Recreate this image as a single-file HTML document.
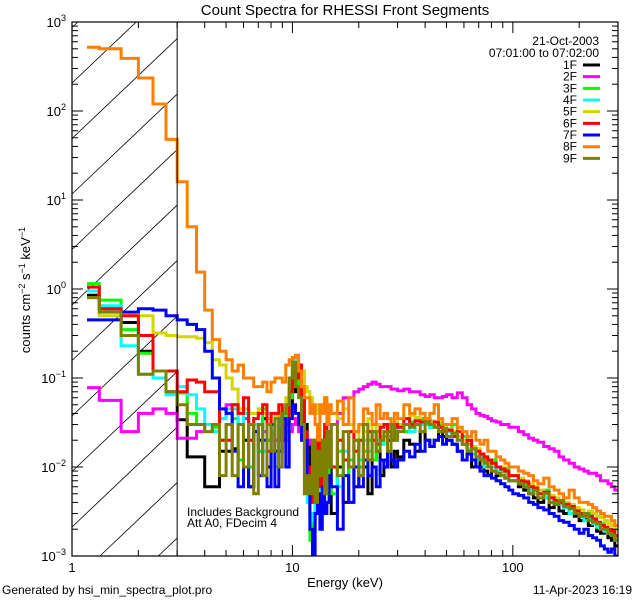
<!DOCTYPE html>
<html><head><meta charset="utf-8"><style>
html,body{margin:0;padding:0;background:#fff;width:640px;height:600px;overflow:hidden;}
svg{display:block;}
svg text{font-family:"Liberation Sans",sans-serif;fill:#000;}
</style></head><body>
<svg id="chart" width="640" height="600" xmlns="http://www.w3.org/2000/svg">
<rect x="0" y="0" width="640" height="600" fill="#fff"/>
<text x="345" y="15" font-size="15" text-anchor="middle">Count Spectra for RHESSI Front Segments</text>
<g id="hatch"></g>
<g id="series"></g>
<g id="axes"></g>
<text x="30" y="290" font-size="13" text-anchor="middle" transform="rotate(-90 30 290)">counts cm<tspan font-size="9" dy="-5">−2</tspan><tspan dy="5"> s</tspan><tspan font-size="9" dy="-5">−1</tspan><tspan dy="5"> keV</tspan><tspan font-size="9" dy="-5">−1</tspan></text>
<text x="345" y="587" font-size="13" text-anchor="middle">Energy (keV)</text>
<text x="2" y="594" font-size="12">Generated by hsi_min_spectra_plot.pro</text>
<text x="632" y="594" font-size="12" text-anchor="end">11-Apr-2023 16:19</text>
<text x="187" y="516" font-size="12">Includes Background</text>
<text x="187" y="527" font-size="12">Att A0, FDecim 4</text>
<text x="599" y="45" font-size="12" text-anchor="end">21-Oct-2003</text>
<text x="599" y="57" font-size="12" text-anchor="end">07:01:00 to 07:02:00</text>
<g id="legend"></g>
</svg>
<script>
const edgesLow=[1.17,1.33,1.67,2,2.33,2.67,3,3.33,3.67,4,4.33,4.67,5,5.33,5.67,6,6.33,6.67,7,7.33,7.67,8,8.33,8.67,9,9.33,9.67,10,10.33,10.67,11,11.33,11.67,12,12.33,12.67,13,13.33,13.67,14,14.33,14.67,15];
const edgesHigh=[16,17,18,19,20,21,22,23,24,25,26,27,28,29,30,32,34,36,38,40,42,44,46,48,50,53,56,59,62,65,68,71,74,77,80,84,88,92,96,100,106,112,118,124,130,138,146,154,162,170,180,190,200,210,220,230,240,250,260,270,280,290,300];
const seriesNames=["1F","2F","3F","4F","5F","6F","7F","8F","9F"];
const seriesColors=["#000000","#ff00ff","#00ff00","#00ffff","#d4d400","#ff0000","#0000ff","#ff8000","#808000"];
const s1F=[.85,.6,.42,.2,.12,.07,.034,.013,.013,.006,.006,.015,.015,.016,.012,.02,.006,.03,.02,.035,.01,.025,.015,.04,.02,.04,.05,.09,.07,.12,.06,.03,.02,.003,.002,.006,.004,.012,.005,.008,.015,.01,
.003,.01,.004,.012,.006,.008,.01,.005,.012,.015,.008,.012,.02,.01,.015,.013,.02,.018,.015,.025,.02,.017,.02,.025,.022,.02,.018,.015,.012,.014,.01,.012,.01,.009,.008,.009,.008,.009,.0075,.007,.007,.006,.0055,.005,.0045,.004,.0045,.0035,.0038,.0032,.003,.0035,.0028,.0025,.0026,.0022,.0024,.0019,.0018,.002,.0016,.0015,.0013];
const s2F=[.078,.056,.025,.04,.045,.04,.021,.021,.025,.03,.03,.035,.05,.05,.03,.035,.03,.025,.03,.025,.02,.025,.02,.022,.02,.025,.025,.03,.035,.025,.02,.02,.018,.02,.02,.015,.018,.018,.02,.022,.02,.025,
.03,.04,.06,.06,.07,.075,.08,.085,.09,.085,.08,.08,.08,.075,.075,.072,.075,.07,.07,.065,.062,.065,.06,.06,.062,.065,.06,.068,.06,.05,.045,.04,.038,.037,.035,.033,.032,.03,.03,.028,.028,.025,.023,.021,.02,.019,.017,.016,.015,.013,.012,.011,.01,.0095,.009,.0085,.0085,.008,.007,.007,.0065,.006,.0055];
const s3F=[1.15,.75,.35,.19,.12,.068,.068,.04,.03,.025,.028,.02,.03,.035,.012,.04,.01,.03,.015,.045,.02,.03,.01,.035,.02,.04,.06,.12,.08,.13,.05,.015,.008,.0015,.003,.008,.005,.015,.004,.01,.02,.008,
.005,.015,.008,.012,.02,.01,.015,.02,.012,.025,.018,.022,.03,.02,.025,.03,.025,.032,.03,.035,.03,.028,.032,.03,.027,.025,.03,.02,.022,.018,.016,.015,.013,.012,.011,.012,.01,.009,.0095,.008,.008,.007,.0065,.006,.0055,.005,.0055,.0045,.004,.0042,.004,.0035,.0033,.003,.0028,.003,.0025,.0022,.0023,.002,.0019,.0018,.0016];
const s4F=[.95,.65,.23,.11,.1,.065,.08,.065,.045,.03,.025,.035,.045,.045,.03,.04,.02,.03,.03,.015,.04,.025,.035,.03,.04,.05,.08,.16,.14,.1,.04,.01,.004,.003,.0025,.006,.008,.004,.015,.006,.01,.02,
.01,.006,.015,.01,.02,.012,.02,.015,.025,.02,.018,.025,.022,.03,.02,.028,.03,.025,.035,.03,.032,.028,.03,.025,.028,.025,.022,.02,.018,.016,.014,.012,.013,.01,.011,.01,.009,.008,.0085,.007,.007,.0065,.006,.0055,.005,.005,.0045,.004,.0042,.0038,.0035,.003,.0032,.0028,.0025,.0026,.0023,.0021,.002,.0019,.0018,.0017,.0015];
const s5F=[.8,.5,.5,.5,.32,.3,.29,.29,.28,.25,.16,.14,.1,.075,.045,.045,.04,.04,.045,.04,.035,.04,.038,.04,.045,.06,.08,.12,.15,.13,.12,.08,.07,.06,.045,.04,.05,.045,.05,.06,.04,.05,
.04,.035,.045,.03,.02,.03,.025,.035,.02,.03,.022,.025,.028,.03,.032,.03,.035,.038,.036,.04,.035,.033,.03,.032,.028,.027,.025,.022,.02,.02,.017,.016,.014,.013,.012,.011,.01,.01,.009,.008,.008,.0075,.007,.0065,.006,.0055,.005,.0048,.0045,.004,.004,.0038,.0035,.0033,.003,.0032,.003,.0028,.0027,.0025,.0023,.0022,.002];
const s6F=[1.05,.6,.5,.3,.12,.12,.07,.095,.09,.07,.07,.02,.02,.05,.04,.06,.02,.035,.04,.05,.015,.04,.04,.05,.02,.03,.07,.12,.1,.14,.06,.025,.01,.004,.006,.01,.02,.006,.015,.03,.015,.025,
.01,.02,.012,.025,.015,.02,.012,.025,.02,.018,.028,.03,.025,.02,.03,.028,.035,.03,.033,.032,.035,.03,.032,.028,.025,.026,.022,.025,.018,.02,.016,.015,.014,.013,.012,.011,.01,.0095,.009,.008,.008,.007,.0068,.006,.0058,.005,.0052,.0045,.0042,.004,.0038,.0036,.0032,.003,.0029,.0028,.0026,.0024,.0022,.0021,.002,.0019,.0017];
const s7F=[.45,.45,.55,.6,.58,.5,.45,.4,.35,.2,.1,.045,.04,.015,.006,.01,.006,.025,.008,.02,.006,.03,.006,.015,.035,.01,.035,.05,.04,.03,.02,.02,.008,.002,.001,.003,.005,.002,.006,.003,.004,.008,
.006,.002,.008,.004,.01,.006,.012,.008,.01,.006,.012,.01,.015,.012,.01,.012,.015,.013,.018,.015,.02,.017,.02,.022,.018,.02,.018,.015,.012,.014,.012,.01,.009,.008,.008,.0075,.007,.0065,.006,.0055,.005,.0048,.0045,.004,.0038,.0035,.0033,.003,.0028,.0025,.0024,.0022,.002,.0018,.002,.0017,.0016,.0015,.0013,.0012,.0011,.0012,.001];
const s8F=[520,500,390,235,120,48,16,5,1.55,.58,.27,.2,.16,.12,.14,.1,.1,.08,.08,.09,.07,.09,.1,.1,.09,.14,.16,.17,.18,.12,.08,.06,.06,.04,.05,.03,.02,.05,.04,.06,.03,.05,
.04,.055,.03,.06,.025,.03,.045,.04,.03,.05,.035,.04,.035,.03,.04,.035,.05,.04,.045,.04,.035,.04,.05,.035,.03,.03,.035,.028,.025,.022,.025,.02,.018,.02,.015,.015,.013,.012,.011,.01,.01,.009,.0085,.008,.007,.0065,.0075,.006,.0055,.005,.0045,.0055,.0045,.004,.004,.0038,.0035,.0032,.003,.0028,.0028,.0025,.0022];
const s9F=[.8,.55,.3,.11,.12,.07,.05,.03,.03,.025,.03,.008,.03,.008,.03,.01,.03,.005,.03,.008,.03,.015,.035,.01,.04,.05,.1,.15,.08,.06,.03,.005,.008,.005,.02,.004,.015,.008,.02,.005,.025,.01,
.03,.008,.025,.01,.02,.008,.03,.012,.025,.015,.02,.025,.015,.03,.02,.025,.03,.028,.03,.025,.032,.03,.028,.025,.027,.022,.024,.02,.018,.015,.016,.013,.012,.011,.01,.009,.0085,.008,.0075,.007,.007,.0065,.006,.005,.0055,.0045,.005,.004,.0038,.0042,.0036,.0034,.003,.0028,.003,.0025,.0024,.0023,.002,.002,.0018,.0017,.0015];
const seriesData=[s1F,s2F,s3F,s4F,s5F,s6F,s7F,s8F,s9F];
const xTickMajor=[1,10,100];
const xTickLabels=["1","10","100"];
const yTickExp=[-3,-2,-1,0,1,2,3];

const L=72,R=618,T=22,B=556,XMIN=1,XMAX=300,YMIN=-3,YMAX=3;
const NS="http://www.w3.org/2000/svg";
function xs(e){return L+(Math.log10(e)-Math.log10(XMIN))/(Math.log10(XMAX)-Math.log10(XMIN))*(R-L);}
function ys(v){return B-(Math.log10(v)-YMIN)/(YMAX-YMIN)*(B-T);}
function mk(tag,attrs,parent){const el=document.createElementNS(NS,tag);for(const k in attrs)el.setAttribute(k,attrs[k]);parent.appendChild(el);return el;}
const svg=document.getElementById('chart');
const defs=mk('defs',{},svg);
const cp=mk('clipPath',{id:'plotclip'},defs);
mk('rect',{x:L,y:T,width:R-L,height:B-T},cp);

// hatch lines, analytically clipped to [L, x3] x [T, B]
const hg=document.getElementById('hatch');
const X3=xs(3), SL=0.95;
for(let k=-12;k<14;k++){
  const y0=83+k*55.5; // y at x=L
  // line: y = y0 - SL*(x-L)
  let xa=L, xb=X3;
  const xAtB=L+(y0-B)/SL, xAtT=L+(y0-T)/SL;
  xa=Math.max(xa,xAtB); xb=Math.min(xb,xAtT);
  if(xb<=xa) continue;
  const ln=mk('line',{x1:xa.toFixed(1),y1:(y0-SL*(xa-L)).toFixed(1),x2:xb.toFixed(1),y2:(y0-SL*(xb-L)).toFixed(1),stroke:'#000','stroke-width':0.8},hg);
  
  
}
const vl=mk('line',{x1:X3,y1:T,x2:X3,y2:B,stroke:'#000','stroke-width':1},svg);



const edges=edgesLow.concat(edgesHigh);
const sg=document.getElementById('series');
sg.setAttribute('clip-path','url(#plotclip)');
function cy(v){return Math.min(B+2,Math.max(T-2,ys(v)));}
seriesData.forEach((vals,si)=>{
  let d='';
  for(let i=0;i<vals.length&&i+1<edges.length;i++){
    const x0=xs(edges[i]).toFixed(1),x1=xs(edges[i+1]).toFixed(1),y=cy(vals[i]).toFixed(1);
    d+=(i===0?'M':'L')+x0+','+y+'L'+x1+','+y;
  }
  const p=mk('path',{d:d,fill:'none',stroke:seriesColors[si],'stroke-width':3,'stroke-linejoin':'miter'},sg);
  
  
});

const ag=document.getElementById('axes');
const fr=mk('rect',{x:L,y:T,width:R-L,height:B-T,fill:'none',stroke:'#000','stroke-width':1.2},ag);


for(let dec=0;dec<3;dec++){
  for(let m=1;m<10;m++){
    const e=m*Math.pow(10,dec);
    if(e>XMAX)break;
    const x=xs(e),len=(m===1)?11:6;
    mk('line',{x1:x,y1:B,x2:x,y2:B-len,stroke:'#000','stroke-width':1},ag);
    mk('line',{x1:x,y1:T,x2:x,y2:T+len,stroke:'#000','stroke-width':1},ag);
  }
}
xTickMajor.forEach((e,i)=>{
  const t=mk('text',{x:xs(e),y:B+16,'font-size':13,'text-anchor':'middle'},ag);
  t.textContent=xTickLabels[i];
  
  
});
yTickExp.forEach(ex=>{
  for(let m=1;m<10;m++){
    if(ex===3&&m>1)break;
    const y=ys(m*Math.pow(10,ex)),len=(m===1)?11:6;
    mk('line',{x1:L,y1:y,x2:L+len,y2:y,stroke:'#000','stroke-width':1},ag);
    mk('line',{x1:R,y1:y,x2:R-len,y2:y,stroke:'#000','stroke-width':1},ag);
  }
  const t=mk('text',{x:L-6,y:ys(Math.pow(10,ex))+5,'font-size':13,'text-anchor':'end'},ag);
  
  
  t.textContent='10';
  const sp=mk('tspan',{dy:-6,'font-size':9},t);
  sp.textContent=(ex<0?'−':'')+Math.abs(ex);
});

const lg=document.getElementById('legend');
seriesNames.forEach((n,i)=>{
  const y=65+i*11.67;
  const g=mk('g',{},lg);
  
  
  const t=mk('text',{x:577,y:y+4,'font-size':12,'text-anchor':'end'},g);
  t.textContent=n;
  mk('line',{x1:583,y1:y,x2:600,y2:y,stroke:seriesColors[i],'stroke-width':3},g);
});
</script>
</body></html>
